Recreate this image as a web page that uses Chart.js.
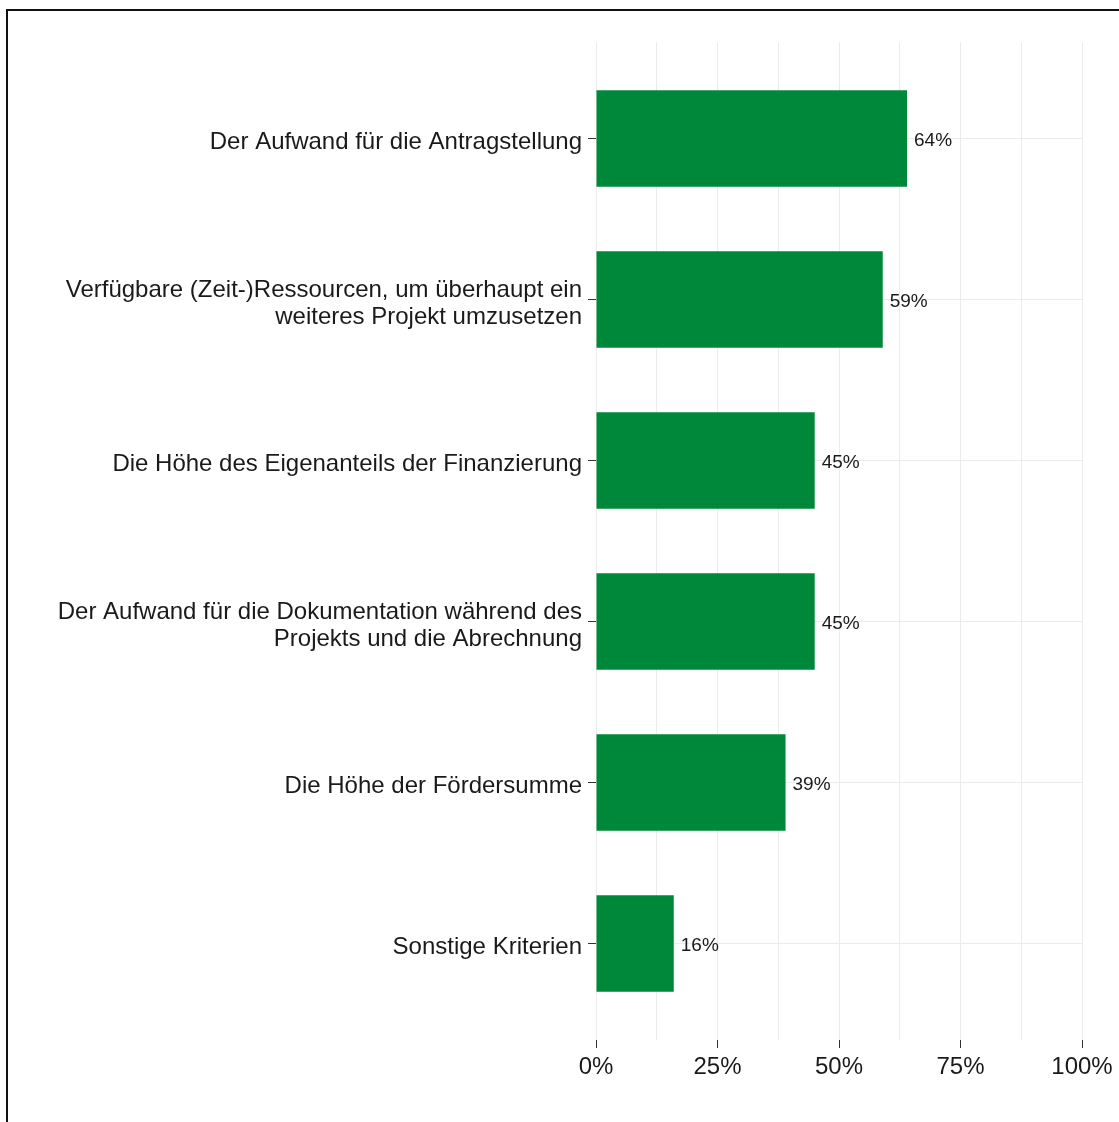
<!DOCTYPE html>
<html>
<head>
<meta charset="utf-8">
<script src="https://cdn.jsdelivr.net/npm/chart.js@4"></script>
<style>
  html, body { margin: 0; padding: 0; background: #fff; }
  #wrap { position: relative; width: 1119px; height: 1122px; }
  #frame { position: absolute; left: 6px; top: 9px; right: 0; bottom: 0; border-left: 2px solid #111; border-top: 2px solid #111; pointer-events: none; }
  canvas { position: absolute; left: 0; top: 0; }
</style>
</head>
<body>
<div id="wrap">
  <canvas id="chart" width="1119" height="1122"></canvas>
  <div id="frame"></div>
</div>
<script>
const categories = [
  ['Der Aufwand für die Antragstellung'],
  ['Verfügbare (Zeit-)Ressourcen, um überhaupt ein', 'weiteres Projekt umzusetzen'],
  ['Die Höhe des Eigenanteils der Finanzierung'],
  ['Der Aufwand für die Dokumentation während des', 'Projekts und die Abrechnung'],
  ['Die Höhe der Fördersumme'],
  ['Sonstige Kriterien']
]
const shares = [64, 59, 45, 45, 39, 16]
const xTicks = [0, 12.5, 25, 37.5, 50, 62.5, 75, 87.5, 100]

const barColor = '#00883a'
const gridColor = '#ebebeb'
const font = '"Liberation Sans", Arial, sans-serif'

const valueLabels = {
  id: 'valueLabels',
  afterDatasetsDraw(chart) {
    const ctx = chart.ctx
    const meta = chart.getDatasetMeta(0)
    ctx.save()
    ctx.font = '19px ' + font
    ctx.fillStyle = '#1a1a1a'
    ctx.textAlign = 'left'
    ctx.textBaseline = 'middle'
    meta.data.forEach((bar, i) => {
      ctx.fillText(shares[i] + '%', bar.x + 7, bar.y + 2)
    })
    ctx.restore()
  }
}

new Chart(document.getElementById('chart'), {
  type: 'bar',
  data: {
    datasets: [{
      data: shares.map((v, i) => ({ x: v, y: i })),
      backgroundColor: barColor,
      borderWidth: 0,
      barPercentage: 0.6,
      categoryPercentage: 1
    }]
  },
  options: {
    indexAxis: 'y',
    responsive: false,
    animation: false,
    layout: { padding: { left: 0, right: 37, top: 42, bottom: 0 } },
    plugins: { legend: { display: false }, tooltip: { enabled: false } },
    scales: {
      x: {
        type: 'linear',
        min: 0,
        max: 100,
        afterBuildTicks: axis => { axis.ticks = xTicks.map(v => ({ value: v })) },
        afterFit: axis => { axis.height = 82 },
        border: { display: false },
        grid: {
          color: gridColor,
          lineWidth: 1,
          tickLength: 8,
          tickColor: ctx => (ctx.tick && ctx.tick.value % 25 === 0) ? '#333' : 'rgba(0,0,0,0)'
        },
        ticks: {
          autoSkip: false,
          maxRotation: 0,
          padding: 5,
          color: '#1a1a1a',
          font: { family: font, size: 24 },
          callback: v => v % 25 === 0 ? v + '%' : ''
        }
      },
      y: {
        type: 'linear',
        reverse: true,
        offset: false,
        min: -0.6,
        max: 5.6,
        afterBuildTicks: axis => { axis.ticks = categories.map((c, i) => ({ value: i })) },
        afterFit: axis => { axis.width = 596 },
        border: { display: false },
        grid: {
          offset: false,
          color: gridColor,
          lineWidth: 1,
          tickLength: 8,
          tickColor: '#333'
        },
        ticks: {
          autoSkip: false,
          padding: 6,
          labelOffset: 4,
          color: '#1a1a1a',
          font: { family: font, size: 24, lineHeight: 1.125 },
          callback: v => categories[v]
        }
      }
    }
  },
  plugins: [valueLabels]
})
</script>
</body>
</html>
